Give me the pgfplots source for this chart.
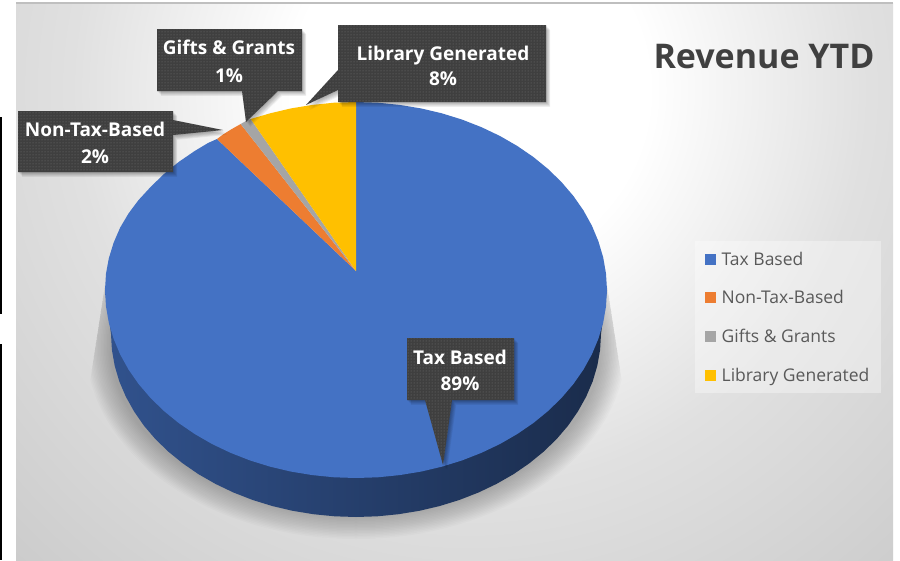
\documentclass[border=0pt]{standalone}
\usepackage{pgfplots}
\pgfplotsset{compat=1.18}
\usepackage{fontspec}
\setmainfont{Open Sans}
\usetikzlibrary{patterns}
\definecolor{cBlue}{HTML}{4472C4}
\definecolor{cOrange}{HTML}{ED7D31}
\definecolor{cGray}{HTML}{A5A5A5}
\definecolor{cGold}{HTML}{FFC000}
\definecolor{cBox}{HTML}{3F3F3F}
\pgfdeclareradialshading{bgshade}{\pgfpointorigin}{%
 color(0bp)=(white); color(9bp)=(white); color(20bp)=(white!88!black);
 color(33bp)=(white!80!black); color(50bp)=(white!70!black)}
\newcommand\callout[1]{%
 \pgfplotsinvokeforeach{1,2,3,4,5,6}{%
  \begin{scope}[transform canvas={xshift=0.7*##1 pt,yshift=-0.8*##1 pt}]
   \fill[black,opacity=0.06] #1;
  \end{scope}}%
 \fill[cBox] #1;
 \fill[pattern=dots,pattern color=white!45!black] #1;
}
\newcommand\lab[4]{\node[text=white,font=\fontsize{19}{#4}\selectfont\bfseries,align=center,anchor=center] at (axis cs:#1,#2) {#3};}
\begin{document}
\begin{tikzpicture}
\begin{axis}[
  scale only axis,width=900pt,height=560pt,
  xmin=0,xmax=900,ymin=0,ymax=560,y dir=reverse,
  hide axis,clip=false,
  legend style={at={(axis cs:695,241)},anchor=north west,draw=none,fill=white,fill opacity=0.35,text opacity=1,
    font=\fontsize{17.5}{20}\selectfont,text=black!65,inner xsep=10pt,inner ysep=9pt,row sep=21pt,
    nodes={inner sep=1.5pt,anchor=west}},
  legend cell align=left,
  legend image code/.code={\fill[#1,fill opacity=1] (0pt,-5.5pt) rectangle (11pt,5.5pt);\path (15pt,0pt);},
]
% background
\path (axis cs:0,0) rectangle (axis cs:900,560);
\fill[white] (axis cs:0,0) rectangle (axis cs:900,560);
\begin{scope}
 \clip (axis cs:16,3) rectangle (axis cs:893,560);
 \shade[shading=bgshade] (axis cs:-25,-405) rectangle (axis cs:965,585);
\end{scope}
\fill[white!75!black] (axis cs:16,1.5) rectangle (axis cs:893,3.5);
\fill[black] (axis cs:0,117) rectangle (axis cs:2,314);
\fill[black] (axis cs:0,344) rectangle (axis cs:2,560);
% pie shadow
\begin{scope}
 \clip (axis cs:105,285) -- (axis cs:88,395) -- (axis cs:88,560) -- (axis cs:624,560) -- (axis cs:624,395) -- (axis cs:607,285) -- cycle;
 \pgfplotsinvokeforeach{0,1.5,3,4.5,6,7.5,9,10.5,12,13.5,15,16.5,18,19.5,21,22.5,24}{
  \fill[black,opacity=0.016] (axis cs:356,345) ellipse [x radius={270-#1},y radius={194-#1}];
 }
\end{scope}
% side wall
\addplot[forget plot,draw=none,left color=cBlue!72!black,middle color=cBlue!42!black,right color=cBlue!38!black] coordinates {
(607,290)(601,334)(600.1,349.9)(597.3,365.8)(592.7,381.4)(586.2,396.6)(578.0,411.3)(568.2,425.5)(556.7,439.0)(543.7,451.6)(529.2,463.4)(513.5,474.2)(496.5,483.9)(478.5,492.5)(459.5,499.9)(439.8,506)(419.4,510.8)(398.5,514.2)(377.4,516.3)(356,517)
(334.6,516.3)(313.5,514.2)(292.6,510.8)(272.2,506)(252.5,499.9)(233.5,492.5)(215.5,483.9)(198.5,474.2)(182.8,463.4)(168.3,451.6)(155.3,439.0)(143.8,425.5)(134,411.3)(125.8,396.6)(119.3,381.4)(114.7,365.8)(111.9,349.9)(111,334)(105,290)
} -- cycle;
% wedges
\addplot[draw=none,fill=cBlue] coordinates {
(356,271)(356,102)(377.9,102.7)(399.6,104.9)(421.0,108.4)(441.8,113.3)(462.1,119.6)(481.5,127.2)(500.0,136.0)(517.3,146.0)(533.5,157.1)(548.3,169.2)(561.6,182.2)(573.4,196.0)(583.5,210.5)(591.9,225.7)(598.4,241.3)(603.2,257.4)(606.0,273.6)(607,290)
(606.0,306.4)(603.2,322.6)(598.4,338.7)(591.9,354.3)(583.5,369.5)(573.4,384.0)(561.6,397.8)(548.3,410.8)(533.5,422.9)(517.3,434.0)(500.0,444.0)(481.5,452.8)(462.1,460.4)(441.8,466.7)(421.0,471.6)(399.6,475.1)(377.9,477.3)(356,478)
(334.1,477.3)(312.4,475.1)(291.0,471.6)(270.2,466.7)(249.9,460.4)(230.5,452.8)(212.0,444.0)(194.7,434.0)(178.5,422.9)(163.7,410.8)(150.4,397.8)(138.6,384.0)(128.5,369.5)(120.1,354.3)(113.6,338.7)(108.8,322.6)(106.0,306.4)(105,290)
(106.0,273.6)(108.8,258.4)(113.6,242.8)(120.1,227.7)(128.5,213.5)(138.6,200.0)(150.4,187.2)(163.7,174.2)(178.5,162.1)(194.7,151.0)(208,143)(217,139)
} -- cycle;
\addlegendentry{Tax Based}
\addplot[draw=none,fill=cOrange] coordinates {(356,271)(217,139)(223,134.5)(231,129.5)(240.7,124)} -- cycle;
\addlegendentry{Non-Tax-Based}
\addplot[draw=none,fill=cGray] coordinates {(356,271)(240.7,124)(245.5,121.3)(250.7,119)} -- cycle;
\addlegendentry{Gifts \& Grants}
\addplot[draw=none,fill=cGold] coordinates {(356,271)(250.7,119)(270.2,113.3)(291,108.4)(312.4,104.9)(334.1,102.7)(356,102)} -- cycle;
\addlegendentry{Library Generated}
% callouts
\callout{(axis cs:18,111) -- (axis cs:173,111) -- (axis cs:173,120) -- (axis cs:223,130) -- (axis cs:173,135) -- (axis cs:173,172) -- (axis cs:18,172) -- cycle}
\callout{(axis cs:157,29) -- (axis cs:302,29) -- (axis cs:302,91) -- (axis cs:278,91) -- (axis cs:246,122) -- (axis cs:242,91) -- (axis cs:157,91) -- cycle}
\callout{(axis cs:338,25) -- (axis cs:546,25) -- (axis cs:546,102) -- (axis cs:338,102) -- (axis cs:338,90) -- (axis cs:306,105) -- (axis cs:338,70) -- cycle}
\callout{(axis cs:407,338) -- (axis cs:514,338) -- (axis cs:514,400) -- (axis cs:452,400) -- (axis cs:443,465) -- (axis cs:425,400) -- (axis cs:407,400) -- cycle}
\lab{95}{142.5}{Non-Tax-Based\\2\%}{27}
\lab{229}{61.5}{Gifts \& Grants\\1\%}{28}
\lab{443}{66}{Library Generated\\8\%}{25}
\lab{460}{370}{Tax Based\\89\%}{26}
% title
\node[anchor=west,text=black!75,font=\fontsize{34}{40}\selectfont\bfseries] at (axis cs:650,57) {Revenue YTD};
\end{axis}
\end{tikzpicture}
\end{document}
